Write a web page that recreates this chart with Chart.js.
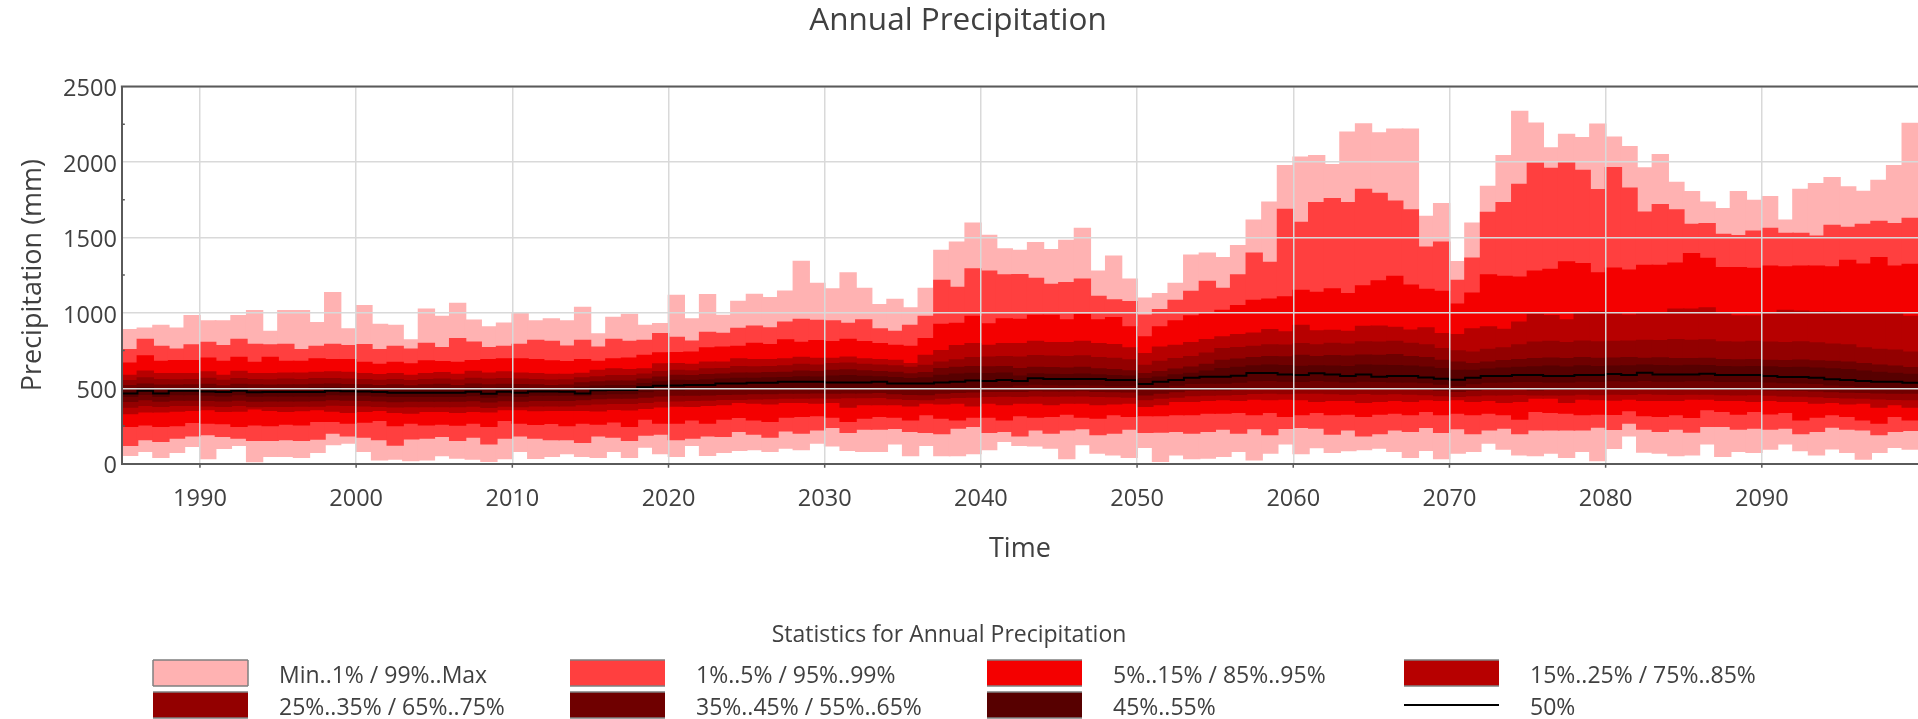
<!DOCTYPE html>
<html>
<head>
<meta charset="utf-8">
<title>Annual Precipitation</title>
<script src="https://cdn.jsdelivr.net/npm/chart.js@4.4.1/dist/chart.umd.min.js"></script>
<style>
  html, body { margin: 0; padding: 0; background: #ffffff; overflow: hidden; }
  #wrap { position: relative; width: 1918px; height: 719px; }
</style>
</head>
<body>
<div id="wrap"><canvas id="chart" width="1918" height="719"></canvas></div>
<script>
// Annual precipitation statistics (mm), one value per simulated year 1985..2099.
const firstYear = 1985;

const pMax = [
  890, 901, 919, 901, 983,
  948, 948, 983, 1016, 879, 1016, 1016, 937, 1135, 895,
  1049, 926, 919, 822, 1027, 979, 1065, 954, 908, 934,
  1003, 948, 961, 948, 1038, 862, 972, 992, 919, 930,
  1118, 961, 1122, 985, 1078, 1124, 1102, 1146, 1343, 1197,
  1160, 1266, 1164, 1056, 1091, 1034, 1164, 1416, 1471, 1597,
  1515, 1425, 1416, 1467, 1420, 1482, 1562, 1279, 1378, 1226,
  1100, 1129, 1197, 1385, 1398, 1367, 1447, 1617, 1736, 1977,
  2034, 2043, 1984, 2200, 2255, 2194, 2220, 2220, 1641, 1725,
  1341, 1597, 1840, 2043, 2337, 2260, 2096, 2185, 2163, 2253,
  2167, 2103, 1962, 2050, 1867, 1805, 1736, 1692, 1805, 1747,
  1772, 1617, 1820, 1858, 1898, 1836, 1807, 1880, 1977, 2258
];
const p99 = [
  758, 826, 780, 762, 789,
  806, 784, 826, 793, 789, 793, 758, 780, 793, 784,
  791, 758, 780, 762, 800, 771, 831, 808, 771, 780,
  793, 820, 813, 782, 820, 775, 826, 813, 820, 864,
  839, 815, 873, 866, 899, 914, 903, 941, 959, 952,
  948, 932, 956, 895, 879, 919, 979, 1217, 1171, 1294,
  1279, 1253, 1255, 1230, 1191, 1202, 1226, 1111, 1087, 1076,
  987, 1023, 1085, 1144, 1211, 1164, 1253, 1398, 1336, 1688,
  1601, 1732, 1758, 1732, 1820, 1794, 1743, 1685, 1438, 1471,
  1217, 1365, 1668, 1732, 1853, 1995, 1959, 1999, 1946, 1818,
  1964, 1829, 1670, 1719, 1685, 1588, 1593, 1522, 1513, 1544,
  1562, 1529, 1529, 1511, 1582, 1568, 1588, 1608, 1593, 1628
];
const p95 = [
  669, 716, 680, 685, 685,
  702, 680, 707, 674, 707, 680, 680, 696, 691, 691,
  674, 660, 674, 663, 683, 678, 674, 685, 691, 696,
  696, 691, 683, 678, 691, 680, 696, 702, 720, 736,
  738, 742, 769, 775, 780, 800, 791, 822, 806, 817,
  811, 826, 811, 797, 786, 780, 831, 926, 932, 979,
  928, 961, 959, 985, 985, 956, 990, 956, 970, 908,
  842, 908, 948, 981, 996, 1018, 1049, 1085, 1093, 1107,
  1151, 1138, 1160, 1129, 1180, 1213, 1244, 1186, 1158, 1144,
  1060, 1133, 1253, 1244, 1239, 1279, 1290, 1339, 1328, 1266,
  1299, 1285, 1317, 1317, 1332, 1394, 1363, 1301, 1301, 1297,
  1312, 1306, 1312, 1312, 1306, 1350, 1325, 1368, 1312, 1323
];
const p85 = [
  588, 616, 599, 599, 599,
  610, 588, 614, 599, 599, 603, 603, 607, 610, 607,
  599, 592, 599, 588, 599, 605, 594, 614, 603, 610,
  603, 599, 594, 594, 601, 621, 630, 625, 630, 663,
  665, 660, 676, 676, 696, 691, 691, 696, 707, 700,
  700, 709, 696, 691, 687, 665, 720, 751, 784, 797,
  786, 797, 797, 813, 804, 804, 813, 797, 791, 769,
  731, 775, 786, 804, 824, 842, 857, 868, 890, 875,
  919, 882, 886, 879, 912, 914, 906, 888, 903, 864,
  857, 895, 908, 892, 941, 992, 983, 956, 996, 1007,
  1003, 987, 996, 996, 1027, 1027, 1034, 996, 981, 981,
  1003, 1018, 1014, 1007, 1007, 996, 1003, 996, 1003, 979
];
const p75 = [
  552, 570, 560, 558, 560,
  568, 555, 565, 560, 558, 562, 560, 565, 566, 562,
  560, 555, 560, 552, 560, 563, 556, 568, 562, 566,
  562, 560, 556, 558, 570, 578, 585, 585, 595, 612,
  621, 618, 630, 632, 645, 643, 645, 650, 660, 655,
  665, 668, 660, 655, 650, 640, 654, 676, 690, 705,
  709, 712, 709, 718, 715, 712, 716, 705, 700, 690,
  654, 680, 698, 712, 735, 764, 772, 780, 790, 788,
  797, 790, 800, 795, 810, 808, 812, 800, 790, 764,
  750, 742, 760, 770, 790, 808, 812, 805, 815, 810,
  812, 815, 820, 818, 825, 819, 822, 810, 808, 812,
  808, 805, 810, 802, 795, 790, 770, 760, 755, 742
];
const p65 = [
  520, 530, 522, 522, 524,
  528, 518, 528, 524, 522, 525, 524, 528, 530, 526,
  524, 520, 524, 518, 524, 527, 520, 530, 525, 528,
  526, 524, 520, 522, 538, 545, 550, 550, 562, 575,
  588, 585, 593, 595, 603, 602, 605, 608, 615, 612,
  621, 624, 618, 612, 608, 598, 605, 632, 640, 645,
  643, 645, 632, 640, 638, 636, 640, 630, 625, 618,
  599, 612, 628, 642, 660, 687, 695, 705, 712, 710,
  720, 712, 718, 715, 722, 720, 725, 712, 705, 687,
  675, 665, 675, 685, 692, 698, 702, 698, 705, 700,
  702, 705, 700, 703, 698, 698, 700, 692, 690, 692,
  687, 685, 688, 683, 680, 676, 665, 655, 648, 638
];
const p55 = [
  495, 505, 498, 500, 500,
  503, 495, 503, 500, 498, 500, 500, 503, 505, 502,
  500, 497, 500, 495, 500, 502, 497, 505, 500, 503,
  502, 500, 497, 498, 510, 516, 520, 520, 532, 545,
  554, 552, 558, 562, 567, 568, 570, 572, 578, 575,
  583, 585, 580, 578, 572, 565, 570, 588, 595, 600,
  599, 602, 582, 598, 594, 593, 596, 590, 585, 582,
  565, 575, 590, 600, 615, 632, 640, 650, 655, 652,
  647, 650, 648, 645, 655, 654, 652, 648, 642, 632,
  620, 620, 628, 635, 640, 643, 648, 642, 650, 645,
  648, 650, 655, 652, 650, 654, 652, 645, 643, 645,
  643, 638, 640, 635, 630, 625, 615, 608, 600, 594
];
const p50 = [
  466, 484, 466, 484, 484,
  479, 475, 484, 473, 475, 475, 475, 475, 484, 481,
  479, 475, 470, 470, 470, 470, 470, 477, 464, 477,
  470, 479, 479, 477, 466, 486, 488, 488, 506, 517,
  519, 521, 521, 532, 532, 536, 536, 543, 543, 543,
  539, 539, 539, 543, 532, 532, 532, 539, 543, 552,
  548, 554, 548, 566, 561, 561, 561, 561, 555, 555,
  528, 543, 555, 570, 577, 577, 583, 601, 601, 592,
  588, 599, 592, 581, 592, 577, 581, 581, 572, 563,
  557, 570, 581, 581, 588, 588, 581, 581, 588, 588,
  594, 588, 603, 592, 592, 592, 596, 588, 588, 588,
  581, 574, 574, 570, 559, 555, 548, 543, 543, 537
];
const p45 = [
  444, 458, 444, 456, 456,
  452, 448, 456, 446, 448, 448, 448, 448, 456, 454,
  452, 448, 444, 444, 444, 444, 444, 450, 440, 450,
  444, 452, 452, 452, 449, 460, 462, 462, 475, 485,
  487, 490, 492, 495, 498, 500, 502, 503, 505, 506,
  499, 502, 503, 505, 495, 492, 490, 500, 503, 508,
  510, 512, 521, 525, 522, 521, 522, 520, 516, 516,
  499, 508, 518, 530, 532, 532, 538, 548, 550, 545,
  543, 550, 545, 540, 545, 543, 540, 540, 535, 525,
  515, 528, 538, 540, 543, 543, 540, 540, 545, 543,
  548, 545, 550, 545, 545, 548, 548, 543, 543, 543,
  540, 535, 533, 530, 520, 515, 510, 505, 502, 499
];
const p35 = [
  411, 422, 412, 420, 420,
  418, 414, 420, 412, 414, 414, 415, 416, 422, 420,
  418, 414, 410, 412, 412, 412, 412, 416, 408, 416,
  412, 418, 418, 418, 422, 430, 432, 432, 440, 448,
  452, 452, 455, 458, 460, 462, 463, 465, 466, 468,
  466, 468, 468, 470, 462, 458, 456, 466, 470, 474,
  477, 478, 477, 482, 480, 480, 482, 478, 476, 474,
  455, 466, 475, 485, 488, 488, 492, 500, 502, 498,
  499, 500, 498, 495, 500, 499, 497, 496, 492, 485,
  478, 485, 490, 492, 495, 488, 492, 490, 495, 492,
  495, 495, 498, 495, 494, 496, 496, 492, 490, 492,
  488, 485, 484, 480, 475, 472, 470, 468, 466, 466
];
const p25 = [
  373, 385, 378, 385, 385,
  382, 378, 385, 376, 378, 378, 380, 380, 386, 384,
  382, 378, 374, 376, 376, 376, 376, 380, 372, 380,
  376, 382, 382, 382, 389, 395, 398, 398, 405, 412,
  415, 418, 420, 424, 425, 428, 430, 432, 433, 435,
  433, 436, 436, 438, 430, 425, 422, 432, 437, 440,
  444, 446, 444, 448, 446, 447, 448, 444, 442, 440,
  422, 432, 440, 450, 452, 455, 458, 464, 466, 463,
  466, 465, 462, 460, 464, 460, 462, 460, 456, 450,
  445, 450, 454, 455, 458, 455, 455, 455, 460, 456,
  460, 458, 462, 460, 458, 460, 460, 456, 455, 456,
  452, 448, 446, 442, 438, 435, 432, 428, 425, 422
];
const p15 = [
  330, 342, 342, 347, 351,
  356, 345, 347, 362, 351, 345, 349, 356, 347, 338,
  345, 351, 338, 334, 345, 345, 338, 345, 342, 356,
  356, 349, 351, 351, 352, 348, 358, 355, 365, 375,
  380, 378, 385, 389, 404, 400, 395, 404, 404, 400,
  404, 373, 389, 389, 389, 382, 400, 395, 400, 382,
  400, 389, 400, 400, 389, 400, 400, 389, 395, 400,
  378, 389, 411, 411, 418, 422, 418, 426, 422, 426,
  422, 411, 418, 418, 404, 411, 418, 411, 422, 418,
  422, 411, 418, 404, 411, 433, 433, 404, 426, 422,
  420, 426, 418, 418, 418, 426, 426, 418, 418, 411,
  418, 411, 411, 400, 404, 395, 400, 373, 389, 373
];
const p5 = [
  245, 256, 245, 250, 272,
  267, 263, 245, 256, 250, 261, 256, 278, 278, 267,
  274, 285, 250, 267, 256, 261, 254, 267, 245, 285,
  267, 258, 265, 250, 267, 261, 276, 245, 294, 267,
  267, 289, 267, 294, 305, 289, 278, 307, 311, 316,
  307, 278, 300, 311, 307, 289, 323, 300, 289, 307,
  307, 289, 316, 307, 311, 327, 307, 300, 323, 311,
  316, 316, 323, 323, 334, 334, 338, 323, 338, 311,
  323, 338, 323, 327, 311, 327, 334, 323, 345, 323,
  334, 323, 334, 323, 294, 345, 338, 334, 323, 327,
  325, 349, 316, 311, 323, 305, 356, 345, 327, 345,
  329, 338, 289, 307, 323, 311, 289, 267, 311, 289
];
const p1 = [
  119, 157, 146, 168, 183,
  190, 179, 168, 152, 152, 157, 152, 161, 201, 183,
  175, 157, 121, 163, 168, 179, 152, 175, 130, 168,
  183, 168, 157, 157, 139, 183, 175, 152, 188, 194,
  157, 168, 183, 179, 212, 194, 175, 216, 201, 223,
  239, 205, 228, 228, 232, 212, 205, 197, 234, 245,
  205, 212, 183, 223, 201, 223, 230, 190, 201, 228,
  205, 208, 212, 201, 212, 228, 201, 230, 190, 232,
  239, 234, 194, 223, 183, 197, 223, 212, 239, 205,
  230, 197, 223, 234, 197, 223, 223, 223, 223, 241,
  225, 267, 228, 212, 228, 208, 245, 245, 228, 234,
  228, 234, 197, 212, 241, 228, 223, 190, 212, 219
];
const pMin = [
  53, 80, 40, 73, 113,
  31, 99, 119, 11, 46, 46, 40, 73, 124, 135,
  80, 24, 29, 18, 24, 51, 35, 29, 13, 31,
  80, 33, 46, 64, 46, 40, 80, 40, 108, 64,
  46, 119, 53, 73, 86, 91, 80, 102, 91, 135,
  117, 86, 80, 80, 130, 51, 119, 51, 51, 64,
  91, 146, 119, 117, 102, 31, 124, 68, 57, 40,
  106, 13, 57, 31, 35, 46, 80, 24, 68, 130,
  64, 104, 73, 84, 91, 102, 80, 40, 86, 31,
  68, 80, 135, 95, 57, 51, 68, 40, 80, 18,
  99, 183, 75, 68, 51, 57, 130, 46, 80, 73,
  95, 130, 84, 57, 97, 73, 29, 73, 106, 95
];

const years = Array.from({ length: pMax.length }, (_, i) => firstYear + i);
const tickYears = [1990, 2000, 2010, 2020, 2030, 2040, 2050, 2060, 2070, 2080, 2090];
const yTickValues = [0, 500, 1000, 1500, 2000, 2500];

// Nested percentile bands, outermost first; each inner band is drawn over the previous one.
const bandLabels = ['Min..1% / 99%..Max', '1%..5% / 95%..99%', '5%..15% / 85%..95%',
  '15%..25% / 75%..85%', '25%..35% / 65%..75%', '35%..45% / 55%..65%', '45%..55%'];
const bandLows = [pMin, p1, p5, p15, p25, p35, p45];
const bandHighs = [pMax, p99, p95, p85, p75, p65, p55];
const bandColors = ['#FFB2B2', '#FF3F3F', '#F40000', '#B70000', '#930000', '#6F0000', '#570000'];

const TEXT = '#404040';
const AXIS = '#5a5a5a';
const GRID = '#d9d9d9';
const FONT = "'Open Sans', 'Noto Sans', sans-serif";

const datasets = bandLabels.map((label, k) => ({
  type: 'bar',
  label,
  data: years.map((yr, i) => ({ x: yr + 0.5, y: [bandLows[k][i], bandHighs[k][i]] })),
  backgroundColor: bandColors[k],
  borderWidth: 0,
  grouped: false,
  barThickness: 16.7,
  order: bandLabels.length - k
}));

datasets.push({
  type: 'line',
  label: '50%',
  data: years.map((yr, i) => ({ x: yr, y: p50[i] }))
    .concat([{ x: years[years.length - 1] + 1, y: p50[p50.length - 1] }]),
  borderColor: '#000000',
  borderWidth: 2,
  pointRadius: 0,
  stepped: 'before',
  fill: false,
  order: 0
});

// Title, plot frame, inner minor ticks and the statistics legend.
const decorPlugin = {
  id: 'decor',
  afterDraw(chart) {
    const { ctx, chartArea: a, scales: { x, y } } = chart;
    ctx.save();

    ctx.fillStyle = TEXT;
    ctx.font = `31.5px ${FONT}`;
    ctx.textAlign = 'center';
    ctx.textBaseline = 'middle';
    ctx.fillText('Annual Precipitation', 958, 21);

    ctx.strokeStyle = AXIS;
    ctx.lineWidth = 2;
    ctx.beginPath();
    ctx.moveTo(a.left - 1, a.top);
    ctx.lineTo(a.right, a.top);
    ctx.stroke();

    ctx.lineWidth = 1.5;
    ctx.beginPath();
    tickYears.forEach(v => {
      const px = x.getPixelForValue(v);
      ctx.moveTo(px, a.bottom);
      ctx.lineTo(px, a.bottom + 4);
    });
    y.ticks.forEach(t => {
      if (t.value % 500 !== 0) {
        const py = y.getPixelForValue(t.value);
        ctx.moveTo(a.left, py);
        ctx.lineTo(a.left + 3, py);
      }
    });
    ctx.stroke();

    // legend
    ctx.fillStyle = TEXT;
    ctx.font = `23px ${FONT}`;
    ctx.textAlign = 'center';
    ctx.fillText('Statistics for Annual Precipitation', 949, 635);

    const colX = [153, 570, 987, 1404];
    const rowY = [660, 692];
    const boxW = 95, boxH = 26;
    chart.data.datasets.forEach((ds, i) => {
      const bx = colX[i % 4];
      const by = rowY[Math.floor(i / 4)];
      if (ds.type === 'bar') {
        ctx.fillStyle = ds.backgroundColor;
        ctx.fillRect(bx, by, boxW, boxH);
        ctx.strokeStyle = '#808080';
        ctx.lineWidth = 1.5;
        ctx.beginPath();
        ctx.moveTo(bx, by); ctx.lineTo(bx + boxW, by);
        ctx.moveTo(bx, by + boxH); ctx.lineTo(bx + boxW, by + boxH);
        if (i === 0) {
          ctx.moveTo(bx, by); ctx.lineTo(bx, by + boxH);
          ctx.moveTo(bx + boxW, by); ctx.lineTo(bx + boxW, by + boxH);
        }
        ctx.stroke();
      } else {
        ctx.strokeStyle = ds.borderColor;
        ctx.lineWidth = 2;
        ctx.beginPath();
        ctx.moveTo(bx, by + boxH / 2);
        ctx.lineTo(bx + boxW, by + boxH / 2);
        ctx.stroke();
      }
      ctx.fillStyle = TEXT;
      ctx.font = `23px ${FONT}`;
      ctx.textAlign = 'left';
      ctx.textBaseline = 'middle';
      ctx.fillText(ds.label, bx + 126, by + 16);
    });
    ctx.restore();
  }
};

Chart.defaults.font.family = FONT;
Chart.defaults.color = TEXT;

new Chart(document.getElementById('chart'), {
  type: 'bar',
  data: { datasets },
  options: {
    responsive: false,
    animation: false,
    devicePixelRatio: 1,
    layout: { padding: { top: 86.5, left: 0, right: -8.2, bottom: 144 } },
    plugins: {
      legend: { display: false },
      tooltip: { enabled: false },
      title: { display: false }
    },
    scales: {
      x: {
        type: 'linear',
        min: firstYear,
        max: 2100,
        offset: false,
        afterBuildTicks: axis => { axis.ticks = tickYears.map(v => ({ value: v })); },
        afterFit: axis => { axis.height = 111.3; },
        ticks: {
          autoSkip: false,
          maxRotation: 0,
          padding: 22,
          color: TEXT,
          font: { size: 23.5 },
          callback: v => String(v)
        },
        grid: { color: GRID, lineWidth: 1.5, drawTicks: false, offset: false, z: 1 },
        border: { display: true, color: AXIS, width: 2, z: 2 },
        title: {
          display: true,
          text: 'Time',
          color: TEXT,
          font: { size: 27 },
          padding: { top: 0, bottom: 9.8 }
        }
      },
      y: {
        type: 'linear',
        min: 0,
        max: 2500,
        afterBuildTicks: axis => {
          const all = [];
          for (let v = 0; v <= 2500; v += 250) all.push({ value: v });
          axis.ticks = all;
        },
        afterFit: axis => { axis.width = 121.85; },
        ticks: {
          autoSkip: false,
          padding: 5,
          labelOffset: 3,
          color: TEXT,
          font: { size: 23.5 },
          callback: v => (yTickValues.includes(v) ? String(v) : '')
        },
        grid: {
          color: ctx => (yTickValues.includes(ctx.tick.value) ? GRID : 'rgba(0,0,0,0)'),
          lineWidth: 1.5,
          drawTicks: false,
          z: 1
        },
        border: { display: true, color: AXIS, width: 2, z: 2 },
        title: {
          display: true,
          text: 'Precipitation (mm)',
          color: TEXT,
          font: { size: 27 },
          padding: { top: 16.8, bottom: 0 }
        }
      }
    }
  },
  plugins: [decorPlugin]
});
</script>
</body>
</html>
